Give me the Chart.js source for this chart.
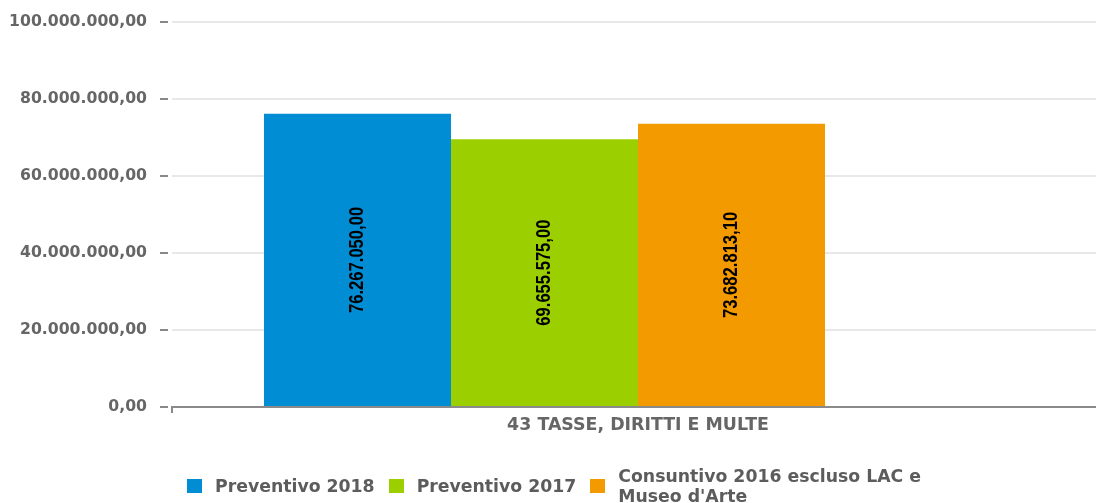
<!DOCTYPE html>
<html>
<head>
<meta charset="utf-8">
<script src="https://cdn.jsdelivr.net/npm/chart.js@4/dist/chart.umd.min.js"></script>
<style>
  html, body { margin: 0; padding: 0; background: #fff; }
  #wrap { width: 1096px; height: 503px; position: relative; overflow: hidden; }
  /* plot runs a little past the right edge, like the original */
  #inner { width: 1104px; height: 503px; position: absolute; left: 0; top: 0; }
  #legend {
    position: absolute; left: 187px; top: 466px; height: 40px;
    display: flex; align-items: center;
    font-family: "DejaVu Sans", Verdana, sans-serif; font-weight: bold; font-size: 17.3px;
    color: #5c5c5c; line-height: 20px;
  }
  #legend .item { display: flex; align-items: center; margin-right: 14px; }
  #legend .box { width: 15px; height: 14px; margin-right: 13px; flex: none; }
</style>
</head>
<body>
<div id="wrap">
  <div id="inner"><canvas id="myChart"></canvas></div>
  <div id="legend"></div>
</div>
<script>
// chart data
const categories = ['43 TASSE, DIRITTI E MULTE'];
const preventivo2018 = [76267050.00];
const preventivo2017 = [69655575.00];
const consuntivo2016 = [73682813.10];
const seriesLabels = ['Preventivo 2018', 'Preventivo 2017', ['Consuntivo 2016 escluso LAC e', "Museo d'Arte"]];
const seriesColors = ['#008dd4', '#9bcf00', '#f29a00'];
const yTicks = [0, 20000000, 40000000, 60000000, 80000000, 100000000];

// italian number format, 2 decimals
function formatIt(v){
    const parts = Number(v).toFixed(2).split('.');
    parts[0] = parts[0].replace(/\B(?=(\d{3})+(?!\d))/g, '.');
    return parts[0] + ',' + parts[1];
}

// value labels written vertically in the middle of each bar
const barLabels = {
    id: 'barLabels',
    afterDatasetsDraw(chart){
        const ctx = chart.ctx;
        chart.data.datasets.forEach((ds, i) => {
            const meta = chart.getDatasetMeta(i);
            meta.data.forEach((bar, j) => {
                const v = ds.data[j];
                if (v == null) return;
                const midY = (bar.y + bar.base) / 2;
                ctx.save();
                ctx.translate(bar.x, midY);
                ctx.rotate(-Math.PI / 2);
                ctx.scale(0.79, 1);
                ctx.font = 'bold 21px "Liberation Sans", Arial, sans-serif';
                ctx.fillStyle = '#000';
                ctx.textAlign = 'center';
                ctx.textBaseline = 'middle';
                ctx.fillText(formatIt(v), 0, 0);
                ctx.restore();
            });
        });
    }
};

const ctx = document.getElementById('myChart').getContext('2d');
const myChart = new Chart(ctx, {
    type: 'bar',
    data: {
        labels: categories,
        datasets: [
            { label: seriesLabels[0], data: preventivo2018, backgroundColor: seriesColors[0] },
            { label: seriesLabels[1], data: preventivo2017, backgroundColor: seriesColors[1] },
            { label: seriesLabels[2], data: consuntivo2016, backgroundColor: seriesColors[2] },
            // empty slot, the original leaves room for a fourth bar
            { label: '', data: [null], backgroundColor: 'rgba(0,0,0,0)' }
        ]
    },
    options: {
        responsive: true,
        maintainAspectRatio: false,
        animation: false,
        layout: { padding: { top: 21, right: 0, left: 0, bottom: 65 } },
        datasets: { bar: { categoryPercentage: 0.8026, barPercentage: 1.0 } },
        plugins: {
            tooltip: { enabled: false },
            legend: { display: false }
        },
        scales: {
            x: {
                grid: { drawOnChartArea: false, tickLength: 6, tickColor: '#8a8a8a', lineWidth: 2 },
                border: { display: true, color: '#8a8a8a', width: 2 },
                ticks: {
                    color: '#666',
                    padding: 2,
                    font: { family: '"DejaVu Sans", Verdana, sans-serif', size: 17.4, weight: 'bold' }
                }
            },
            y: {
                min: 0,
                max: 100000000,
                afterBuildTicks: (scale) => { scale.ticks = yTicks.map(v => ({ value: v })); },
                afterFit: (scale) => { scale.width = 172; },
                grid: {
                    color: '#e8e8e8', lineWidth: 2,
                    tickColor: '#888', tickWidth: 2, tickLength: 12, tickBorderDash: [8, 4]
                },
                border: { display: false },
                ticks: {
                    color: '#666',
                    padding: 13,
                    font: { family: '"DejaVu Sans", Verdana, sans-serif', size: 15.7, weight: 'bold' },
                    callback: (v) => formatIt(v)
                }
            }
        }
    },
    plugins: [barLabels]
});

// html legend built from the datasets
function buildLegend(chart){
    const legend = document.getElementById('legend');
    chart.data.datasets.forEach((ds) => {
        if (!ds.label) return;
        const item = document.createElement('div');
        item.className = 'item';
        const box = document.createElement('span');
        box.className = 'box';
        box.style.background = ds.backgroundColor;
        const text = document.createElement('span');
        text.innerHTML = [].concat(ds.label).join('<br>');
        item.appendChild(box);
        item.appendChild(text);
        legend.appendChild(item);
    });
}
buildLegend(myChart);
</script>
</body>
</html>
